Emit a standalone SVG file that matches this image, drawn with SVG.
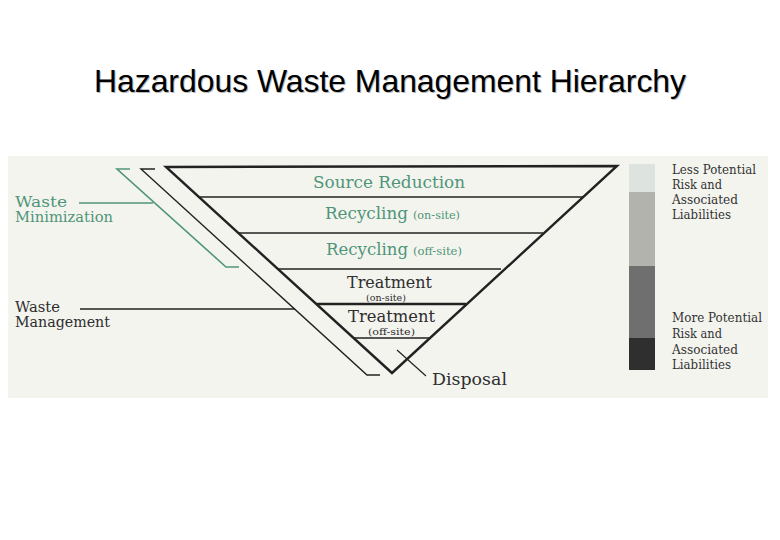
<svg xmlns="http://www.w3.org/2000/svg" width="780" height="540" viewBox="0 0 780 540">
<style>
.ser{font-family:"DejaVu Serif","Liberation Serif",serif}
.grn{fill:#4f9579}
.drk{fill:#2e2e2e}
.ln{stroke:#222;fill:none}
.gln{stroke:#4f9579;fill:none;stroke-width:1.6}
.rt{font-size:12.5px;fill:#333}
</style>
<rect x="0" y="0" width="780" height="540" fill="#ffffff"/>
<g id="title">
<text x="391" y="93" text-anchor="middle" font-family="Liberation Sans,Arial,sans-serif" font-size="31.5" fill="#b8b8b8" textLength="592" lengthAdjust="spacingAndGlyphs">Hazardous Waste Management Hierarchy</text>
<text x="390" y="92" text-anchor="middle" font-family="Liberation Sans,Arial,sans-serif" font-size="31.5" fill="#000" textLength="592" lengthAdjust="spacingAndGlyphs">Hazardous Waste Management Hierarchy</text>
</g>
<rect id="panel" x="8" y="156" width="760" height="242" fill="#f4f4ef"/>
<g id="connectors">
<polyline class="gln" points="130,169 117,169 226,267 239,267"/>
<polyline class="ln" stroke-width="1.4" points="155,169 141,169 367,375 380,375"/>
<line class="gln" x1="79" y1="203" x2="153" y2="203"/>
<line class="ln" stroke-width="1.5" x1="80" y1="309" x2="295" y2="309"/>
<line class="ln" stroke-width="1.2" x1="397" y1="350" x2="426" y2="376"/>
</g>
<g id="pyramid">
<polygon class="ln" stroke-width="2.4" stroke-linejoin="miter" points="166,167 617,166 392,373"/>
<line class="ln" stroke-width="1.5" x1="200" y1="197" x2="584" y2="197"/>
<line class="ln" stroke-width="1.5" x1="239" y1="233" x2="543" y2="233"/>
<line class="ln" stroke-width="1.5" x1="278" y1="269" x2="501" y2="269"/>
<line class="ln" stroke-width="2.4" x1="317" y1="304" x2="466" y2="304"/>
<line class="ln" stroke-width="1.3" x1="354" y1="338" x2="429" y2="338"/>
</g>
<g id="source-reduction"><text class="ser grn" x="313" y="188" font-size="17.5" textLength="152" lengthAdjust="spacingAndGlyphs">Source Reduction</text></g>
<g id="recycling-on"><text class="ser grn" x="325" y="219" font-size="17.5" textLength="83" lengthAdjust="spacingAndGlyphs">Recycling</text><text class="ser grn" x="413" y="219" font-size="10.5" textLength="47" lengthAdjust="spacingAndGlyphs">(on-site)</text></g>
<g id="recycling-off"><text class="ser grn" x="326" y="255" font-size="17.5" textLength="82" lengthAdjust="spacingAndGlyphs">Recycling</text><text class="ser grn" x="413" y="255" font-size="10.5" textLength="49" lengthAdjust="spacingAndGlyphs">(off-site)</text></g>
<g id="treatment-on"><text class="ser drk" x="347" y="288" font-size="17" textLength="85" lengthAdjust="spacingAndGlyphs">Treatment</text><text class="ser drk" x="366" y="301" font-size="10" textLength="40" lengthAdjust="spacingAndGlyphs">(on-site)</text></g>
<g id="treatment-off"><text class="ser drk" x="348" y="322" font-size="17" textLength="87" lengthAdjust="spacingAndGlyphs">Treatment</text><text class="ser drk" x="368" y="335" font-size="10" textLength="47" lengthAdjust="spacingAndGlyphs">(off-site)</text></g>
<g id="disposal"><text class="ser drk" x="432" y="385" font-size="17.5" textLength="75" lengthAdjust="spacingAndGlyphs">Disposal</text></g>
<g id="waste-minimization">
<text class="ser grn" x="15" y="207" font-size="14.5" textLength="52" lengthAdjust="spacingAndGlyphs">Waste</text>
<text class="ser grn" x="15" y="222" font-size="14.5" textLength="98" lengthAdjust="spacingAndGlyphs">Minimization</text>
</g>
<g id="waste-management">
<text class="ser drk" x="15" y="312" font-size="14.5" textLength="45" lengthAdjust="spacingAndGlyphs">Waste</text>
<text class="ser drk" x="15" y="327" font-size="14.5" textLength="95" lengthAdjust="spacingAndGlyphs">Management</text>
</g>
<g id="risk-bar">
<rect x="629" y="164" width="26" height="28" fill="#dde4df"/>
<rect x="629" y="192" width="26" height="74" fill="#b3b3ae"/>
<rect x="629" y="266" width="26" height="72" fill="#6f6f6f"/>
<rect x="629" y="338" width="26" height="32" fill="#2f2f2f"/>
</g>
<g id="less-risk">
<text class="ser rt" x="672" y="174" textLength="84" lengthAdjust="spacingAndGlyphs">Less Potential</text>
<text class="ser rt" x="672" y="189" textLength="50" lengthAdjust="spacingAndGlyphs">Risk and</text>
<text class="ser rt" x="672" y="204" textLength="66" lengthAdjust="spacingAndGlyphs">Associated</text>
<text class="ser rt" x="672" y="219" textLength="59" lengthAdjust="spacingAndGlyphs">Liabilities</text>
</g>
<g id="more-risk">
<text class="ser rt" x="672" y="322" textLength="90" lengthAdjust="spacingAndGlyphs">More Potential</text>
<text class="ser rt" x="672" y="338" textLength="50" lengthAdjust="spacingAndGlyphs">Risk and</text>
<text class="ser rt" x="672" y="354" textLength="66" lengthAdjust="spacingAndGlyphs">Associated</text>
<text class="ser rt" x="672" y="369" textLength="59" lengthAdjust="spacingAndGlyphs">Liabilities</text>
</g>
</svg>
